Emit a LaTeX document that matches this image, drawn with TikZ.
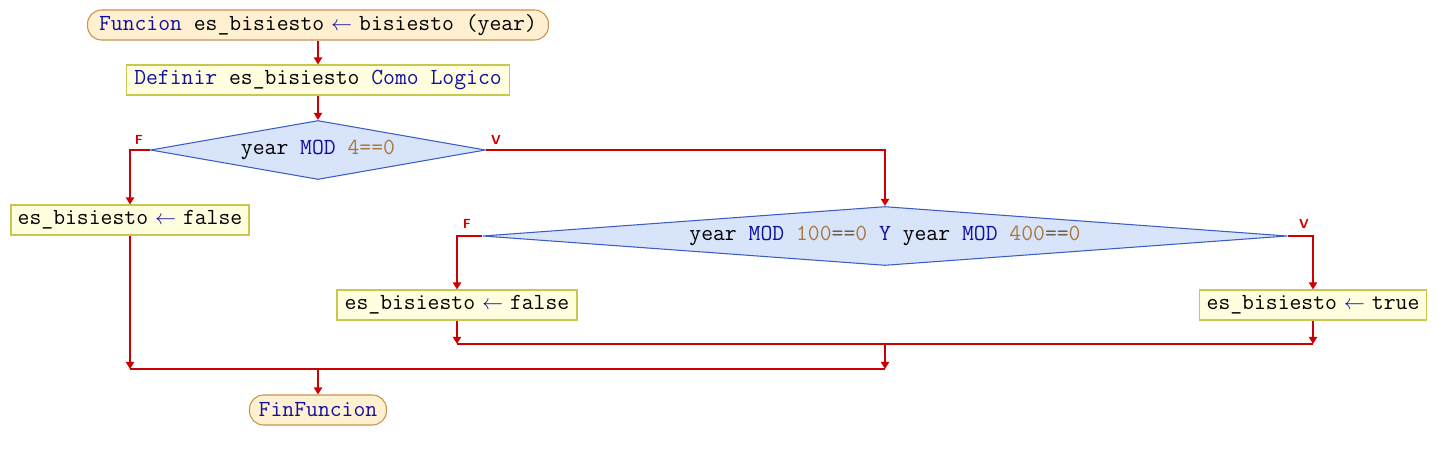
\documentclass[tikz,border=0pt]{standalone}
\usetikzlibrary{shapes.geometric,arrows.meta}
\definecolor{kw}{HTML}{1010A0}
\definecolor{num}{HTML}{A87838}
\definecolor{eqc}{HTML}{6A5A48}
\definecolor{flowc}{HTML}{CC0000}
\definecolor{termfill}{HTML}{FFF0D2}
\definecolor{termdraw}{HTML}{C8924A}
\definecolor{procfill}{HTML}{FFFFE0}
\definecolor{procdraw}{HTML}{C8C850}
\definecolor{decfill}{HTML}{D8E4FA}
\definecolor{decdraw}{HTML}{3A5CC4}
\newcommand{\kw}[1]{{\color{kw}#1}}
\newcommand{\nm}[1]{{\color{num}#1}}
\newcommand{\asg}{\hspace{0.3em}\kw{$\leftarrow$}\hspace{0.3em}}
\tikzset{
  txt/.style={font=\fontsize{13.1}{15}\selectfont\ttfamily, text=black},
  term/.style={txt, draw=termdraw, fill=termfill, line width=0.6pt, rounded corners=0.28cm, minimum height=0.6cm, inner sep=1pt},
  proc/.style={txt, draw=procdraw, fill=procfill, line width=0.6pt, minimum height=0.6cm, inner sep=1pt},
  dec/.style={txt, shape=diamond, draw=decdraw, fill=decfill, line width=0.6pt, inner sep=0pt, minimum height=1.18cm},
  flow/.style={draw=flowc, line width=1.1pt, -{Triangle[width=4.6pt,length=4pt]}},
  line/.style={draw=flowc, line width=1.1pt},
  lab/.style={text=flowc, font=\sffamily\bfseries\fontsize{7.5}{8}\selectfont, inner sep=0pt}
}
\begin{document}
\begin{tikzpicture}[x=0.02cm, y=-0.02cm]
\useasboundingbox (0,0) rectangle (1438,460);
\node[term, minimum width=9.22cm] (start) at (318,25) {\kw{Funcion} es\_bisiesto\asg bisiesto (year)};
\node[proc, minimum width=7.68cm] (def) at (318,80) {\kw{Definir} es\_bisiesto \kw{Como Logico}};
\node[dec, minimum width=6.7cm, shape aspect=5.7] (d1) at (318,150) {year \kw{MOD} \nm{4==0}};
\node[proc, minimum width=4.76cm] (f1) at (130,220) {es\_bisiesto\asg false};
\node[dec, minimum width=16.1cm, shape aspect=13.6] (d2) at (885,236) {year \kw{MOD} \nm{100}{\color{eqc}==}\nm{0} \kw{Y} year \kw{MOD} \nm{400}{\color{eqc}==}\nm{0}};
\node[proc, minimum width=4.8cm] (f2) at (457,305) {es\_bisiesto\asg false};
\node[proc, minimum width=4.54cm] (t2) at (1313,305) {es\_bisiesto\asg true};
\node[term, minimum width=2.74cm] (end) at (318,410) {\kw{FinFuncion}};
\node[lab] (lf1) at (139,140) {F};
\node[lab] (lv1) at (496,140) {V};
\node[lab] (lf2) at (467,224) {F};
\node[lab] (lv2) at (1304,224) {V};
\coordinate (j1) at (885,344);
\coordinate (j2) at (318,369);
\draw[flow] (start) -- (def);
\draw[flow] (def) -- (d1);
\draw[flow] (d1.west) -| (f1.north);
\draw[flow] (d1.east) -| (d2.north);
\draw[flow] (d2.west) -| (f2.north);
\draw[flow] (d2.east) -| (t2.north);
\draw[flow] (f2.south) -- (f2.south |- j1);
\draw[flow] (t2.south) -- (t2.south |- j1);
\draw[line] (f2.south |- j1) -- (t2.south |- j1);
\draw[flow] (j1) -- (j1 |- j2);
\draw[flow] (f1.south) -- (f1.south |- j2);
\draw[line] (f1.south |- j2) -- (j1 |- j2);
\draw[flow] (j2) -- (end);
\end{tikzpicture}
\end{document}
